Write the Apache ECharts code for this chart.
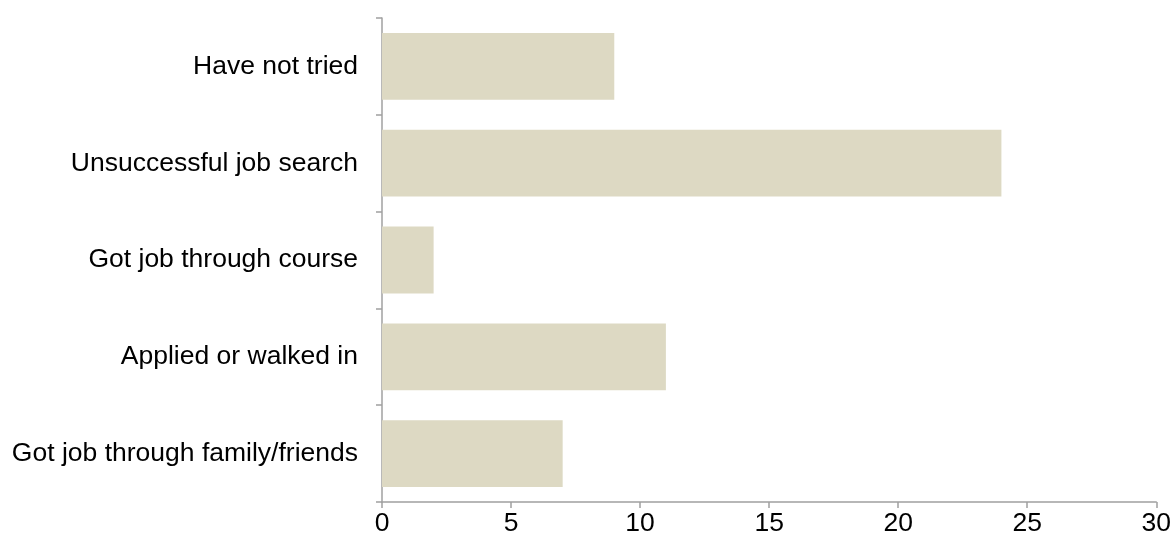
<!DOCTYPE html>
<html>
<head>
<meta charset="utf-8">
<script src="https://cdn.jsdelivr.net/npm/echarts@6/dist/echarts.min.js"></script>
<style>
html, body { margin: 0; padding: 0; background: #fff; }
#main { width: 1174px; height: 544px; }
</style>
</head>
<body>
<div id="main"></div>
<script>
// categories listed bottom to top (category axis starts at bottom)
var categories = ['Got job through family/friends', 'Applied or walked in', 'Got job through course', 'Unsuccessful job search', 'Have not tried'];
var values = [7, 11, 2, 24, 9];

var myChart = echarts.init(document.getElementById('main'));
var axisColor = '#A0A0A0';
var option = {
    animation: false,
    grid: {
        left: 382,
        right: 17,
        top: 18,
        bottom: 42
    },
    xAxis: {
        type: 'value',
        min: 0,
        max: 30,
        interval: 5,
        axisLine: { show: true, lineStyle: { color: axisColor, width: 1.5 } },
        axisTick: { show: true, length: 6, lineStyle: { color: axisColor, width: 1.5 } },
        splitLine: { show: false },
        axisLabel: {
            margin: 8,
            color: '#000',
            fontSize: 26.5,
            fontFamily: 'Liberation Sans, Arial, sans-serif'
        }
    },
    yAxis: {
        type: 'category',
        data: categories,
        axisLine: { show: true, lineStyle: { color: axisColor, width: 1.5 } },
        axisTick: { show: true, length: 6, lineStyle: { color: axisColor, width: 1.5 } },
        axisLabel: {
            margin: 24,
            color: '#000',
            fontSize: 26.5,
            fontFamily: 'Liberation Sans, Arial, sans-serif'
        }
    },
    series: [{
        type: 'bar',
        data: values,
        barCategoryGap: '31%',
        itemStyle: { color: '#DDD9C3' }
    }]
};
myChart.setOption(option);
</script>
</body>
</html>
